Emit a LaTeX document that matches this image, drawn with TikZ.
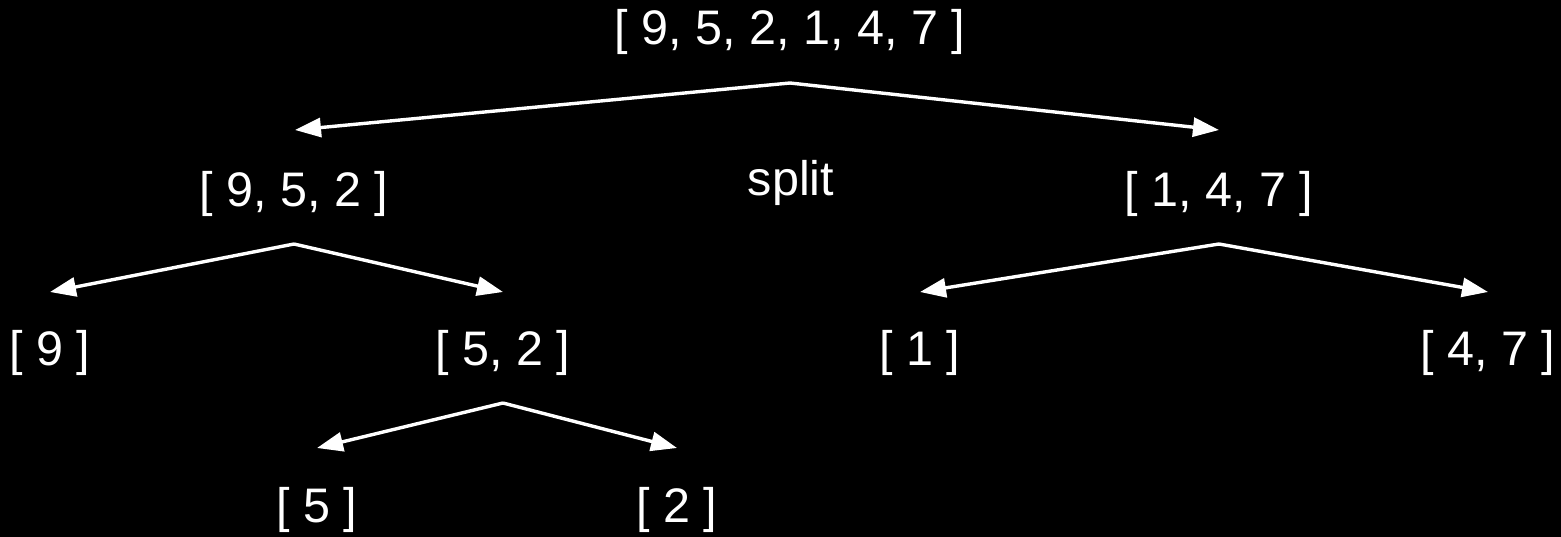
\documentclass[tikz,border=0pt]{standalone}
\usepackage{fontspec}
\setmainfont{Liberation Sans}
\usetikzlibrary{arrows.meta}

\begin{document}
\begin{tikzpicture}[
  x=1pt,y=-1pt,
  lst/.style={text=white,anchor=base,inner sep=0pt,
    font=\fontsize{48.5}{58}\selectfont},
  split/.style={draw=white,line width=3.4pt,line join=miter,
    -{Triangle[length=26pt,width=19pt]}},
]
  \fill[black] (0,0) rectangle (1561,537);
  \useasboundingbox (0,0) rectangle (1561,537);

  % lists
  \node[lst] (all) at (790,45) {[ 9, 5, 2, 1, 4, 7 ]};
  \node[lst] (left) at (294,207) {[ 9, 5, 2 ]};
  \node[lst] (right) at (1219,207) {[ 1, 4, 7 ]};
  \node[lst] (lbl) at (791,196) {split};
  \node[lst] (nine) at (50,366) {[ 9 ]};
  \node[lst] (fivetwo) at (503,366) {[ 5, 2 ]};
  \node[lst] (one) at (920,366) {[ 1 ]};
  \node[lst] (fourseven) at (1488,366) {[ 4, 7 ]};
  \node[lst] (five) at (317,522) {[ 5 ]};
  \node[lst] (two) at (677,522) {[ 2 ]};

  % forks and arrow tips
  \coordinate (all-f) at (790,83);
  \coordinate (left-t) at (295,130);
  \coordinate (right-t) at (1219,130);
  \coordinate (left-f) at (294,244);
  \coordinate (nine-t) at (50,292);
  \coordinate (fivetwo-t) at (503,292);
  \coordinate (right-f) at (1219,244);
  \coordinate (one-t) at (920,292);
  \coordinate (fourseven-t) at (1488,292);
  \coordinate (fivetwo-f) at (503,403);
  \coordinate (five-t) at (317,448);
  \coordinate (two-t) at (677,448);

  \draw[split] (all-f) -- (left-t);
  \draw[split] (all-f) -- (right-t);
  \draw[split] (left-f) -- (nine-t);
  \draw[split] (left-f) -- (fivetwo-t);
  \draw[split] (right-f) -- (one-t);
  \draw[split] (right-f) -- (fourseven-t);
  \draw[split] (fivetwo-f) -- (five-t);
  \draw[split] (fivetwo-f) -- (two-t);
\end{tikzpicture}
\end{document}
